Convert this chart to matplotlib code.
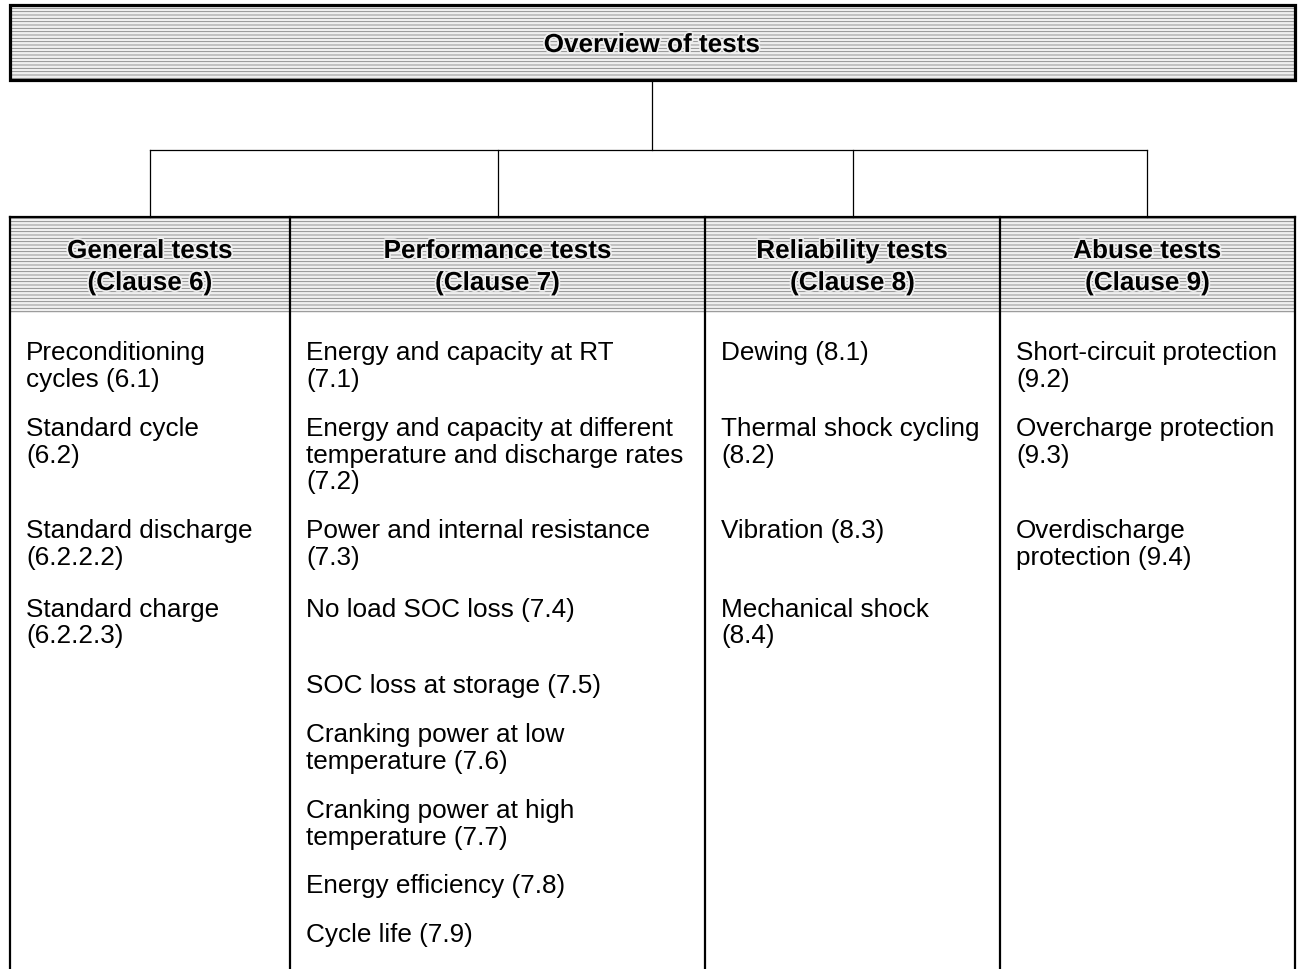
import matplotlib.pyplot as plt
import matplotlib.patches as mpatches
import matplotlib.patheffects as pe

plt.rcParams['font.family'] = ['Liberation Sans', 'DejaVu Sans']
plt.rcParams['hatch.linewidth'] = 0.55

title = 'Overview of tests'
headers = ['General tests\n(Clause 6)', 'Performance tests\n(Clause 7)',
           'Reliability tests\n(Clause 8)', 'Abuse tests\n(Clause 9)']
col_edges = [10, 290, 705, 1000, 1295]
drop_x = [150, 498, 853, 1147]

general = ['Preconditioning\ncycles (6.1)', 'Standard cycle\n(6.2)',
           'Standard discharge\n(6.2.2.2)', 'Standard charge\n(6.2.2.3)']
general_y = [360, 436, 538, 617]
performance = ['Energy and capacity at RT\n(7.1)',
               'Energy and capacity at different\ntemperature and discharge rates\n(7.2)',
               'Power and internal resistance\n(7.3)', 'No load SOC loss (7.4)',
               'SOC loss at storage (7.5)', 'Cranking power at low\ntemperature (7.6)',
               'Cranking power at high\ntemperature (7.7)', 'Energy efficiency (7.8)',
               'Cycle life (7.9)']
performance_y = [360, 436, 538, 617, 693, 742, 818, 893, 942]
reliability = ['Dewing (8.1)', 'Thermal shock cycling\n(8.2)', 'Vibration (8.3)',
               'Mechanical shock\n(8.4)']
reliability_y = [360, 436, 538, 617]
abuse = ['Short-circuit protection\n(9.2)', 'Overcharge protection\n(9.3)',
         'Overdischarge\nprotection (9.4)']
abuse_y = [360, 436, 538]

items = [general, performance, reliability, abuse]
items_y = [general_y, performance_y, reliability_y, abuse_y]

W, H = 1300, 969
FS = 18.8
LINE = 26.5
FACE = '#efefef'
HATCH_C = '#7c7c7c'

fig = plt.figure(figsize=(W / 100, H / 100), dpi=100)
ax = fig.add_axes([0, 0, 1, 1])
ax.set_xlim(0, W)
ax.set_ylim(H, 0)
ax.axis('off')

halo = [pe.withStroke(linewidth=2.5, foreground=FACE)]


def hatched(x, y, w, h):
    # dotted-grey shading used in the boxes
    ax.add_patch(mpatches.Rectangle((x, y), w, h, facecolor=FACE, hatch='-----',
                                    edgecolor=HATCH_C, linewidth=0))


# top box
hatched(10, 5, 1285, 75)
ax.add_patch(mpatches.Rectangle((10, 5), 1285, 75, facecolor='none',
                                edgecolor='black', linewidth=2.3))
ax.text(652, 45, title, ha='center', va='center', fontsize=FS, fontweight='bold',
        path_effects=halo)

# connectors
ax.plot([652, 652], [80, 150], color='black', lw=0.9)
ax.plot([drop_x[0], drop_x[-1]], [150, 150], color='black', lw=0.9)
for x in drop_x:
    ax.plot([x, x], [150, 217], color='black', lw=0.9)

# column headers
for i, h in enumerate(headers):
    x0, x1 = col_edges[i], col_edges[i + 1]
    hatched(x0, 217, x1 - x0, 96)
    for k, line in enumerate(h.split('\n')):
        ax.text((x0 + x1) / 2, 251 + k * 32, line, ha='center', va='center',
                fontsize=FS, fontweight='bold', path_effects=halo)

# column outlines
ax.plot([col_edges[0], col_edges[-1]], [217, 217], color='black', lw=1.6)
for x in col_edges:
    ax.plot([x, x], [217, H + 5], color='black', lw=1.6)

# column entries
for i, (texts, ys) in enumerate(zip(items, items_y)):
    for t, y in zip(texts, ys):
        for k, line in enumerate(t.split('\n')):
            ax.text(col_edges[i] + 16, y + k * LINE, line, ha='left',
                    va='baseline', fontsize=FS)

fig.savefig('out.png', dpi=100)
